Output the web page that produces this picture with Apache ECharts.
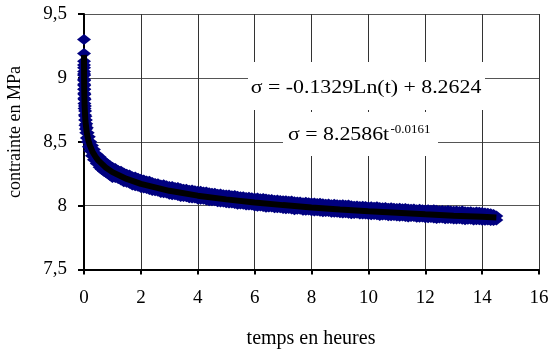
<!DOCTYPE html>
<html>
<head>
<meta charset="utf-8">
<script src="https://cdn.jsdelivr.net/npm/echarts@6/dist/echarts.min.js"></script>
<style>
html,body{margin:0;padding:0;background:#fff;}
#chart{width:559px;height:351px;}
</style>
</head>
<body>
<div id="chart"></div>
<script>
// ---- data ----
// measurement times (hours)
var tMeas = [0, 0.001, 0.002, 0.003, 0.004, 0.006, 0.008, 0.01, 0.015, 0.02, 0.03, 0.04, 0.05, 0.065, 0.08, 0.1, 0.13, 0.17, 0.22, 0.28, 0.35, 0.45, 0.55, 0.62, 0.7, 0.77, 0.85, 0.92, 1.0,
  1.1, 1.2, 1.3, 1.4, 1.5, 1.6, 1.7, 1.8, 1.9, 2.0, 2.1, 2.2, 2.3, 2.4, 2.5, 2.6, 2.7, 2.8, 2.9, 3.0,
  3.1, 3.2, 3.3, 3.4, 3.5, 3.6, 3.7, 3.8, 3.9, 4.0, 4.1, 4.2, 4.3, 4.4, 4.5, 4.6, 4.7, 4.8, 4.9, 5.0,
  5.1, 5.2, 5.3, 5.4, 5.5, 5.6, 5.7, 5.8, 5.9, 6.0, 6.1, 6.2, 6.3, 6.4, 6.5, 6.6, 6.7, 6.8, 6.9, 7.0,
  7.1, 7.2, 7.3, 7.4, 7.5, 7.6, 7.7, 7.8, 7.9, 8.0, 8.1, 8.2, 8.3, 8.4, 8.5, 8.6, 8.7, 8.8, 8.9, 9.0,
  9.1, 9.2, 9.3, 9.4, 9.5, 9.6, 9.7, 9.8, 9.9, 10.0, 10.1, 10.2, 10.3, 10.4, 10.5, 10.6, 10.7, 10.8, 10.9, 11.0,
  11.1, 11.2, 11.3, 11.4, 11.5, 11.6, 11.7, 11.8, 11.9, 12.0, 12.1, 12.2, 12.3, 12.4, 12.5, 12.6, 12.7, 12.8, 12.9, 13.0,
  13.1, 13.2, 13.3, 13.4, 13.5, 13.6, 13.7, 13.8, 13.9, 14.0, 14.1, 14.2, 14.3, 14.4, 14.5];
// upper side of the measured scatter band (MPa)
var sigmaHigh = [9.30, 9.13, 9.08, 9.05, 9.02, 8.98, 8.94, 8.91, 8.87, 8.83, 8.78, 8.74, 8.70, 8.67, 8.64, 8.61, 8.57, 8.54, 8.50, 8.47, 8.44, 8.40, 8.38, 8.36, 8.35, 8.335, 8.32, 8.31, 8.30,
  8.290, 8.275, 8.269, 8.256, 8.245, 8.239, 8.227, 8.224, 8.215, 8.207, 8.201, 8.192, 8.190, 8.181, 8.174, 8.171, 8.162, 8.163, 8.156, 8.150,
  8.149, 8.142, 8.142, 8.135, 8.129, 8.128, 8.121, 8.122, 8.117, 8.112, 8.112, 8.106, 8.107, 8.101, 8.096, 8.096, 8.089, 8.091, 8.086, 8.083,
  8.083, 8.077, 8.079, 8.073, 8.069, 8.069, 8.063, 8.066, 8.062, 8.058, 8.059, 8.054, 8.056, 8.051, 8.047, 8.048, 8.042, 8.045, 8.041, 8.038,
  8.039, 8.034, 8.036, 8.031, 8.028, 8.029, 8.023, 8.026, 8.023, 8.020, 8.021, 8.017, 8.019, 8.015, 8.011, 8.012, 8.007, 8.010, 8.007, 8.004,
  8.006, 8.002, 8.004, 8.000, 7.996, 7.998, 7.993, 7.996, 7.993, 7.990, 7.992, 7.988, 7.991, 7.986, 7.983, 7.985, 7.979, 7.983, 7.980, 7.978,
  7.980, 7.975, 7.978, 7.974, 7.971, 7.973, 7.968, 7.971, 7.968, 7.966, 7.968, 7.964, 7.967, 7.963, 7.960, 7.962, 7.957, 7.961, 7.958, 7.956,
  7.958, 7.954, 7.957, 7.953, 7.950, 7.952, 7.947, 7.951, 7.948, 7.946, 7.943, 7.940, 7.936, 7.930, 7.919];
// lower side of the measured scatter band (MPa)
var sigmaLow = [9.19, 9.10, 9.03, 8.99, 8.95, 8.91, 8.88, 8.84, 8.80, 8.76, 8.71, 8.67, 8.63, 8.60, 8.57, 8.53, 8.50, 8.46, 8.43, 8.39, 8.36, 8.33, 8.30, 8.285, 8.27, 8.26, 8.25, 8.235, 8.22,
  8.221, 8.212, 8.200, 8.187, 8.182, 8.175, 8.162, 8.156, 8.151, 8.141, 8.138, 8.135, 8.127, 8.118, 8.117, 8.113, 8.103, 8.101, 8.098, 8.090,
  8.086, 8.085, 8.079, 8.072, 8.072, 8.070, 8.062, 8.060, 8.059, 8.052, 8.049, 8.049, 8.044, 8.038, 8.039, 8.038, 8.030, 8.029, 8.028, 8.023,
  8.020, 8.020, 8.016, 8.010, 8.012, 8.011, 8.004, 8.004, 8.004, 7.998, 7.996, 7.997, 7.993, 7.988, 7.990, 7.990, 7.983, 7.983, 7.983, 7.978,
  7.976, 7.977, 7.973, 7.968, 7.971, 7.971, 7.964, 7.964, 7.965, 7.960, 7.958, 7.960, 7.956, 7.952, 7.954, 7.954, 7.948, 7.948, 7.949, 7.944,
  7.943, 7.945, 7.941, 7.937, 7.939, 7.940, 7.934, 7.934, 7.935, 7.930, 7.929, 7.931, 7.928, 7.923, 7.926, 7.927, 7.920, 7.921, 7.922, 7.918,
  7.917, 7.918, 7.915, 7.911, 7.914, 7.915, 7.909, 7.909, 7.910, 7.906, 7.905, 7.907, 7.904, 7.900, 7.903, 7.904, 7.898, 7.899, 7.900, 7.896,
  7.895, 7.897, 7.894, 7.890, 7.893, 7.894, 7.888, 7.889, 7.890, 7.886, 7.885, 7.887, 7.884, 7.883, 7.887];
// trend line (black)
var trendT = [0.001, 0.002, 0.005, 0.01, 0.02, 0.05, 0.1, 0.15, 0.2, 0.3, 0.4, 0.5, 0.75, 1, 1.5, 2, 3, 4, 5, 6, 7, 8, 9, 10, 11, 12, 13, 14, 14.5];
var trendS = [9.180, 9.088, 8.966, 8.874, 8.782, 8.661, 8.568, 8.514, 8.476, 8.422, 8.384, 8.354, 8.301, 8.262, 8.209, 8.170, 8.116, 8.078, 8.049, 8.024, 8.004, 7.986, 7.970, 7.956, 7.944, 7.932, 7.921, 7.912, 7.907];
// axis ticks
var yTicks = [7.5, 8, 8.5, 9, 9.5];
var yTickLabels = ['7,5', '8', '8,5', '9', '9,5'];
var xTicks = [0, 2, 4, 6, 8, 10, 12, 14, 16];
var eqLog = 'σ = -0.1329Ln(t) + 8.2624';
var eqPowMain = 'σ = 8.2586t';
var eqPowExp = '-0.0161';

var FONT = '"Liberation Serif", "Times New Roman", serif';
var chart = echarts.init(document.getElementById('chart'), null, {renderer: 'canvas'});

function pairs(xs, ys) { return xs.map(function (x, i) { return [x, ys[i]]; }); }

var option = {
  animation: false,
  backgroundColor: '#fff',
  grid: {left: 84, right: 20, top: 14, bottom: 81.5, containLabel: false},
  xAxis: {
    type: 'value', min: xTicks[0], max: xTicks[xTicks.length - 1], interval: 2,
    axisLine: {show: true, onZero: false, lineStyle: {color: '#000', width: 2}},
    axisTick: {show: true, length: 5, lineStyle: {color: '#000', width: 2}},
    splitLine: {show: true, lineStyle: {color: '#333', width: 1}},
    axisLabel: {color: '#000', fontFamily: FONT, fontSize: 19, margin: 19}
  },
  yAxis: {
    type: 'value', min: yTicks[0], max: yTicks[yTicks.length - 1], interval: 0.5,
    axisLine: {show: true, onZero: false, lineStyle: {color: '#000', width: 2}},
    axisTick: {show: true, length: 6, lineStyle: {color: '#000', width: 2}},
    splitLine: {show: true, lineStyle: {color: '#555', width: 1}},
    axisLabel: {
      color: '#000', fontFamily: FONT, fontSize: 19, margin: 17,
      formatter: function (v) {
        var i = yTicks.indexOf(v);
        return i >= 0 ? yTickLabels[i] : String(v).replace('.', ',');
      }
    }
  },
  series: [
    {type: 'scatter', data: pairs(tMeas, sigmaHigh), symbol: 'diamond', symbolSize: [14, 11],
     itemStyle: {color: '#000080', opacity: 1}, z: 2, silent: true},
    {type: 'scatter', data: pairs(tMeas, sigmaLow), symbol: 'diamond', symbolSize: [14, 11],
     itemStyle: {color: '#000080', opacity: 1}, z: 2, silent: true},
    {type: 'line', data: pairs(trendT, trendS), showSymbol: false, symbol: 'none',
     lineStyle: {color: '#000', width: 6}, z: 3, silent: true}
  ],
  graphic: [
    {type: 'rect', shape: {x: 248, y: 62, width: 237, height: 48}, style: {fill: '#fff'}, z: 10},
    {type: 'rect', shape: {x: 283, y: 112, width: 155, height: 44}, style: {fill: '#fff'}, z: 10},
    {type: 'text', x: 366, y: 88.5, scaleX: 1.15, z: 11,
     style: {text: eqLog, font: '19px ' + FONT, fill: '#000', textAlign: 'center', textVerticalAlign: 'middle'}},
    {type: 'text', x: 288, y: 135.5, scaleX: 1.15, z: 11,
     style: {text: eqPowMain, font: '19px ' + FONT, fill: '#000', textAlign: 'left', textVerticalAlign: 'middle'}},
    {type: 'text', x: 390.5, y: 129.5, scaleX: 1.08, z: 11,
     style: {text: eqPowExp, font: '12px ' + FONT, fill: '#000', textAlign: 'left', textVerticalAlign: 'middle'}},
    {type: 'text', x: 311, y: 339, z: 11,
     style: {text: 'temps en heures', font: '20px ' + FONT, fill: '#000', textAlign: 'center', textVerticalAlign: 'middle'}},
    {type: 'text', x: 15.5, y: 132, rotation: Math.PI / 2, z: 11,
     style: {text: 'contrainte en MPa', font: '18px ' + FONT, fill: '#000', textAlign: 'center', textVerticalAlign: 'middle'}}
  ]
};
chart.setOption(option);
</script>
</body>
</html>
